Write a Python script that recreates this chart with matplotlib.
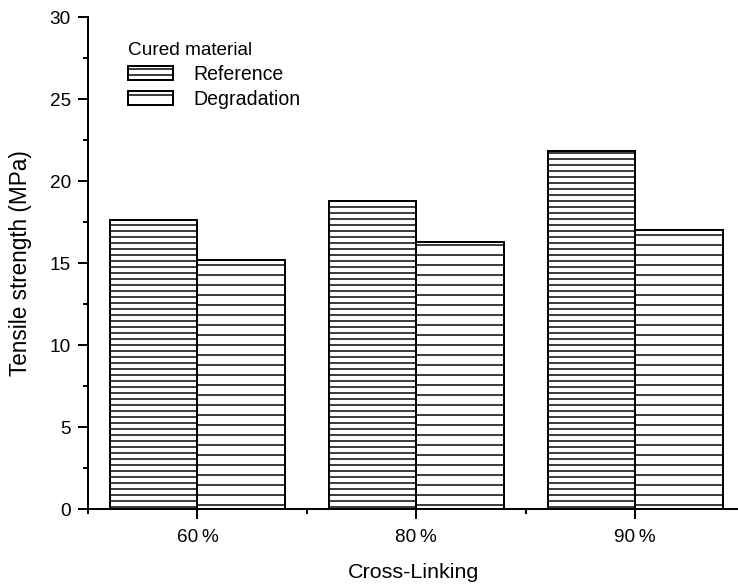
import matplotlib
matplotlib.use("Agg")
import matplotlib.pyplot as plt
from matplotlib.ticker import FixedLocator, MultipleLocator

# --- data ---
categories = ["60\u2009%", "80\u2009%", "90\u2009%"]
reference = [17.6, 18.8, 21.8]
degradation = [15.2, 16.3, 17.0]

plt.rcParams["font.family"] = ["Liberation Sans", "DejaVu Sans"]
plt.rcParams["hatch.linewidth"] = 0.6
plt.rcParams["hatch.color"] = "black"

DPI = 180
fig = plt.figure(figsize=(739 / DPI, 585 / DPI), dpi=DPI)
ax = fig.add_axes([88 / 739, 76 / 585, 651 / 739, 492 / 585])

x = range(len(categories))
w = 0.4
ax.bar([i - w / 2 for i in x], reference, width=w, color="white",
       edgecolor="black", linewidth=0.8, hatch="-----", label="Reference")
ax.bar([i + w / 2 for i in x], degradation, width=w, color="white",
       edgecolor="black", linewidth=0.8, hatch="---", label="Degradation")

ax.set_xlim(-0.5, 2.475)
ax.set_ylim(0, 30)
ax.set_xticks(list(x))
ax.set_xticklabels(categories)
ax.xaxis.set_minor_locator(FixedLocator([-0.5, 0.5, 1.5]))
ax.yaxis.set_major_locator(MultipleLocator(5))
ax.yaxis.set_minor_locator(MultipleLocator(2.5))

for side in ("top", "right"):
    ax.spines[side].set_visible(False)
for side in ("left", "bottom"):
    ax.spines[side].set_linewidth(0.8)

ax.tick_params(which="major", direction="out", length=4, width=0.8,
               labelsize=7.6, pad=2.8)
ax.tick_params(which="minor", direction="out", length=2, width=0.8)
ax.tick_params(axis="x", which="major", pad=4)

ax.set_xlabel("Cross-Linking", fontsize=8.6, labelpad=7)
ax.set_ylabel("Tensile strength (MPa)", fontsize=9, labelpad=7)

leg = ax.legend(title="Cured material", loc="upper left",
                bbox_to_anchor=(0.05, 0.965), frameon=False,
                fontsize=7.8, title_fontsize=7.6, handlelength=2.3,
                handleheight=0.75, handletextpad=1.05, labelspacing=0.3,
                borderaxespad=0)
leg._legend_box.align = "left"

fig.savefig("out.png", dpi=DPI)
